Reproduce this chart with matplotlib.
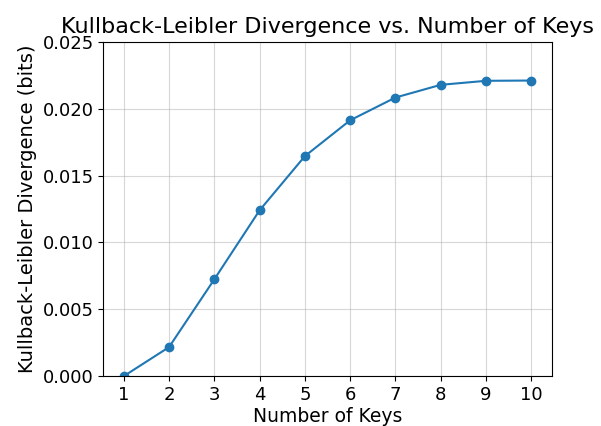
import matplotlib
matplotlib.use("Agg")
import matplotlib.pyplot as plt

# Number of keys vs KL divergence
num_keys = [1, 2, 3, 4, 5, 6, 7, 8, 9, 10]
kl_div = [0.0, 0.00217, 0.00724, 0.01240, 0.01645, 0.01913, 0.02083, 0.02178, 0.02208, 0.02210]

fig, ax = plt.subplots(figsize=(6.01, 4.26), dpi=100)
ax.plot(num_keys, kl_div, marker='o', color='#1f77b4')

ax.set_title('Kullback-Leibler Divergence vs. Number of Keys', fontsize=16)
ax.set_xlabel('Number of Keys', fontsize=13.5, labelpad=2)
ax.set_ylabel('Kullback-Leibler Divergence (bits)', fontsize=14)
ax.set_xticks(num_keys)
ax.set_ylim(0, 0.025)
ax.tick_params(labelsize=13)
ax.grid(True, alpha=0.5)

fig.subplots_adjust(left=0.172, right=0.918, top=0.902, bottom=0.117)
fig.savefig('out.png')
